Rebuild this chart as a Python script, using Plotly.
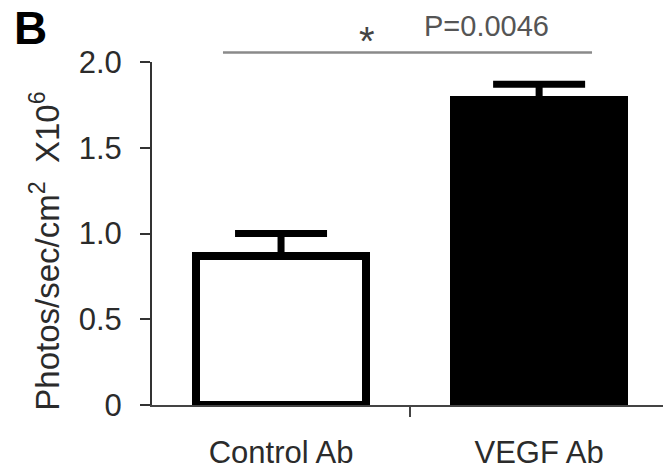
import plotly.graph_objects as go

# ---- data ----
categories = ["Control Ab", "VEGF Ab"]
means = [0.87, 1.78]
sem_upper = [0.13, 0.09]
bar_fills = ["white", "black"]
y_tick_vals = [0, 0.5, 1.0, 1.5, 2.0]
y_tick_text = ["0", "0.5", "1.0", "1.5", "2.0"]
y_title = "Photos/sec/cm<sup>2</sup>  X10<sup>6</sup>"
p_text = "P=0.0046"
sig_star = "*"
panel_label = "B"
group_boundary = [0.5]
sig_line_x = [-0.225, 1.205]
sig_line_y = 1.028  # paper fraction above plot top

FONT = "Liberation Sans, Arial, sans-serif"
TXT = "#2b2b2b"

fig = go.Figure()
fig.add_trace(go.Bar(
    x=categories, y=means, width=0.66,
    marker=dict(color=bar_fills, line=dict(color="black", width=8)),
    error_y=dict(type="data", symmetric=False, array=sem_upper,
                 arrayminus=[0, 0], color="black", thickness=7, width=46),
    showlegend=False, hoverinfo="skip",
))
# invisible helper so the secondary x axis (middle tick) is drawn
fig.add_trace(go.Scatter(
    x=group_boundary, y=[0], xaxis="x2", mode="markers",
    marker=dict(opacity=0), showlegend=False, hoverinfo="skip",
))

fig.update_layout(
    width=663, height=469,
    margin=dict(l=152, r=0, t=62, b=64),
    paper_bgcolor="white", plot_bgcolor="white",
    font=dict(family=FONT, color=TXT, size=31),
    bargap=0,
    xaxis=dict(
        type="category", range=[-0.5, 1.48], automargin=False,
        showline=True, linecolor="#444", linewidth=2,
        ticks="", showgrid=False, zeroline=False,
        tickfont=dict(size=31, color=TXT, family=FONT),
        ticklabelstandoff=19,
    ),
    xaxis2=dict(
        overlaying="x", anchor="y", side="bottom", automargin=False,
        type="linear", range=[-0.5, 1.48], tickmode="array", tickvals=group_boundary,
        ticks="outside", ticklen=11, tickwidth=1.5, tickcolor="#444",
        showticklabels=False, showgrid=False, zeroline=False, showline=False,
    ),
    yaxis=dict(
        range=[0, 2.0], tickmode="array", tickvals=y_tick_vals, automargin=False,
        ticktext=y_tick_text, ticks="outside", ticklen=10, tickwidth=2,
        tickcolor="#333", showline=True, linecolor="#333", linewidth=2,
        showgrid=False, zeroline=False,
        tickfont=dict(size=31, color=TXT, family=FONT),
        ticklabelstandoff=12,
    ),
)

# significance bracket
fig.add_shape(type="line", xref="x", yref="paper",
              x0=sig_line_x[0], x1=sig_line_x[1], y0=sig_line_y, y1=sig_line_y,
              line=dict(color="#8a8a8a", width=2.5))

annotations = [
    dict(text=y_title, xref="paper", yref="paper", x=-0.210, y=0.449,
         xanchor="center", yanchor="middle", textangle=-90, showarrow=False,
         font=dict(size=33, color=TXT, family=FONT)),
    dict(text=f"<b>{panel_label}</b>", xref="paper", yref="paper", x=-0.237, y=1.098,
         xanchor="center", yanchor="middle", showarrow=False,
         font=dict(size=46, color="black", family=FONT)),
    dict(text=p_text, xref="paper", yref="paper", x=0.655, y=1.104,
         xanchor="center", yanchor="middle", showarrow=False,
         font=dict(size=29, color="#555", family=FONT)),
    dict(text=sig_star, xref="paper", yref="paper", x=0.42, y=1.06,
         xanchor="center", yanchor="middle", showarrow=False,
         font=dict(size=40, color="#444", family=FONT)),
]
fig.update_layout(annotations=annotations)

fig.write_html("out.html", config={"displayModeBar": False},
               post_script="document.body.style.margin='0px';")
